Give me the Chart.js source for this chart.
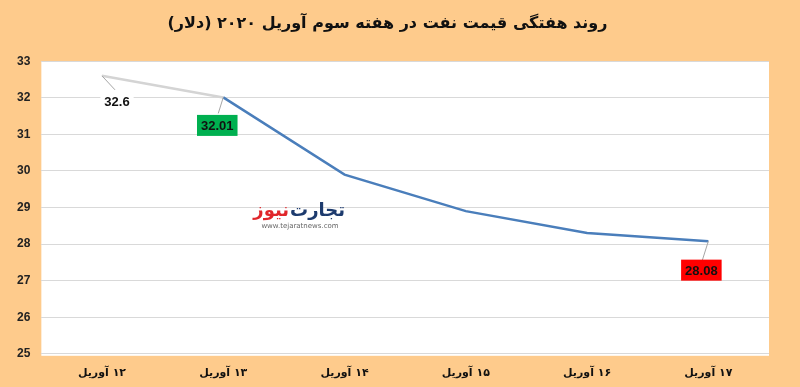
<!DOCTYPE html>
<html>
<head>
<meta charset="utf-8">
<script src="https://cdn.jsdelivr.net/npm/chart.js@4.4.0/dist/chart.umd.min.js"></script>
<style>
  html, body { margin: 0; padding: 0; background: #FECB8C; }
  #wrap { width: 800px; height: 387px; }
</style>
</head>
<body>
<div id="wrap"><canvas id="myChart" dir="rtl" width="800" height="387"></canvas></div>
<script>
// data
const days = ['۱۲ آوریل', '۱۳ آوریل', '۱۴ آوریل', '۱۵ آوریل', '۱۶ آوریل', '۱۷ آوریل']
const prices = [32.6, 32.01, 29.9, 28.9, 28.3, 28.08]
const yTicks = [25, 26, 27, 28, 29, 30, 31, 32, 33]
const titleText = 'روند هفتگی قیمت نفت در هفته سوم آوریل ۲۰۲۰ (دلار)'

// which points get a label, and how it looks
const labelStyle = {
    0: { dx: 15, dy: 26, bg: '#FFFFFF', lx: 13, ly: 14 },
    1: { dx: -6, dy: 28, bg: '#00B050', lx: -5, ly: 16 },
    5: { dx: -7, dy: 29, bg: '#FF0000', lx: -6, ly: 19 }
}

const background = {
    id: 'background',
    beforeDraw(chart) {
        const { ctx, chartArea } = chart
        ctx.save()
        ctx.fillStyle = '#FECB8C'
        ctx.fillRect(0, 0, chart.width, chart.height)
        ctx.fillStyle = '#FFFFFF'
        ctx.fillRect(chartArea.left, chartArea.top, chartArea.right - chartArea.left, chartArea.bottom - chartArea.top + 2)
        ctx.restore()
    }
}

const watermark = {
    id: 'watermark',
    beforeDatasetsDraw(chart) {
        const ctx = chart.ctx
        ctx.save()
        ctx.direction = 'rtl'
        ctx.textBaseline = 'alphabetic'
        ctx.font = 'bold 18px "DejaVu Sans"'
        ctx.textAlign = 'right'
        ctx.fillStyle = '#1D3B6E'
        ctx.fillText('تجارت', 345, 216)
        const w = ctx.measureText('تجارت').width
        ctx.fillStyle = '#E0262B'
        ctx.fillText('نیوز', 345 - w - 1, 216)
        ctx.direction = 'ltr'
        ctx.font = '7px "DejaVu Sans"'
        ctx.textAlign = 'center'
        ctx.fillStyle = '#666666'
        ctx.fillText('www.tejaratnews.com', 300, 228)
        ctx.restore()
    }
}

const pointLabels = {
    id: 'pointLabels',
    afterDatasetsDraw(chart) {
        const ctx = chart.ctx
        const meta = chart.getDatasetMeta(0)
        ctx.save()
        ctx.direction = 'ltr'
        ctx.font = 'bold 13px "Liberation Sans"'
        ctx.textAlign = 'center'
        ctx.textBaseline = 'middle'
        Object.keys(labelStyle).forEach(k => {
            const i = Number(k)
            const s = labelStyle[i]
            const p = meta.data[i]
            const txt = String(prices[i])
            const cx = p.x + s.dx
            const cy = p.y + s.dy
            const w = ctx.measureText(txt).width + 8
            const h = 21
            // leader line
            ctx.strokeStyle = '#A6A6A6'
            ctx.lineWidth = 1
            ctx.beginPath()
            ctx.moveTo(p.x, p.y)
            ctx.lineTo(p.x + s.lx, p.y + s.ly)
            ctx.stroke()
            ctx.fillStyle = s.bg
            ctx.fillRect(cx - w / 2, cy - h / 2, w, h)
            ctx.fillStyle = '#111111'
            ctx.fillText(txt, cx, cy + 1)
        })
        ctx.restore()
    }
}

const renderChart = (el) => {
    new Chart(el, {
        type: 'line',
        data: {
            labels: days,
            datasets: [{
                data: prices,
                borderColor: '#4A7EBB',
                borderWidth: 2.5,
                pointRadius: 0,
                tension: 0,
                fill: false,
                segment: {
                    borderColor: ctx => ctx.p0DataIndex === 0 ? '#D4D4D4' : '#4A7EBB'
                }
            }]
        },
        options: {
            responsive: false,
            animation: false,
            layout: { padding: { left: 6, right: 31, top: 0, bottom: 2 } },
            plugins: {
                legend: { display: false },
                tooltip: { enabled: false },
                title: {
                    display: true,
                    text: titleText,
                    color: '#111111',
                    font: { family: 'DejaVu Sans', size: 16, weight: 'bold' },
                    padding: { top: 14, bottom: 28 }
                }
            },
            scales: {
                x: {
                    offset: true,
                    grid: { display: false },
                    border: { display: false },
                    ticks: {
                        color: '#111111',
                        font: { family: 'DejaVu Sans', size: 11, weight: 'bold' },
                        padding: 5,
                        maxRotation: 0
                    }
                },
                y: {
                    min: 25,
                    max: 33,
                    afterBuildTicks: axis => { axis.ticks = yTicks.map(v => ({ value: v })) },
                    grid: { color: '#D9D9D9', drawTicks: false, lineWidth: 1 },
                    border: { display: false },
                    ticks: {
                        color: '#222222',
                        font: { family: 'Liberation Sans', size: 12, weight: 'bold' },
                        padding: 11
                    }
                }
            }
        },
        plugins: [background, watermark, pointLabels]
    })
}

renderChart(document.getElementById('myChart').getContext('2d'))
</script>
</body>
</html>
